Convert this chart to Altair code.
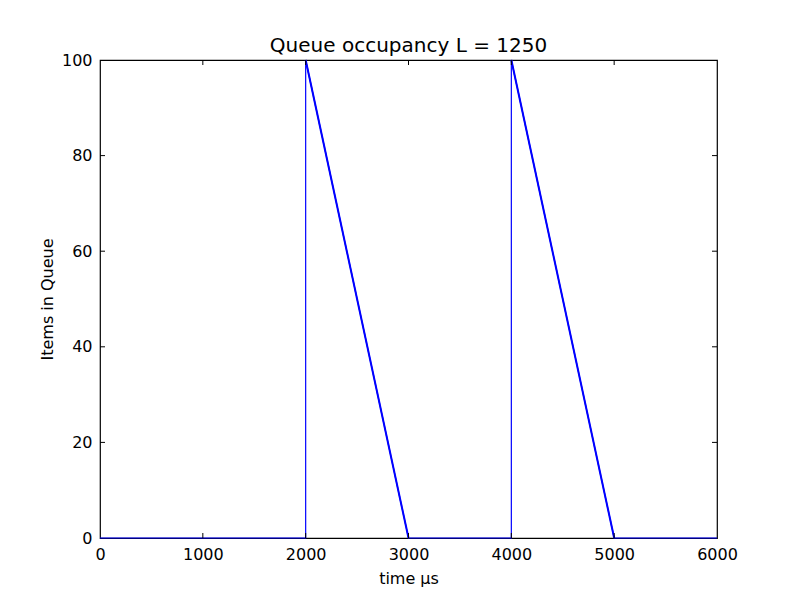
import altair as alt
import pandas as pd

time_us = [0, 2000, 2000, 3000, 4000, 4000, 5000, 6000]
items = [0, 0, 100, 0, 0, 100, 0, 0]
drop_time = [2000, 3000, 4000, 5000]
drop_items = [100, 0, 100, 0]
drop_group = [1, 1, 2, 2]
x_ticks = [0, 1000, 2000, 3000, 4000, 5000, 6000]
y_ticks = [0, 20, 40, 60, 80, 100]

W, H = 617, 478
FONT = "DejaVu Sans"

df = pd.DataFrame({"t": time_us, "q": items, "o": list(range(len(time_us)))})
seg = pd.DataFrame({"t": drop_time, "q": drop_items, "g": drop_group})

xs = alt.Scale(domain=[0, 6000], nice=False)
ys = alt.Scale(domain=[0, 100], nice=False)

xaxis = alt.Axis(values=x_ticks, format="d", ticks=False, labelPadding=8, domain=False,
                 grid=False, title="time μs", titlePadding=8, labelFlush=False)
yaxis = alt.Axis(values=y_ticks, format="d", ticks=False, labelPadding=8, domain=False,
                 grid=False, title="Items in Queue", titlePadding=6, labelFlush=False)

base_line = alt.Chart(df).mark_line(color="#0000ff", strokeWidth=1.2).encode(
    x=alt.X("t:Q", scale=xs, axis=xaxis),
    y=alt.Y("q:Q", scale=ys, axis=yaxis),
    order="o:Q",
)
thick = alt.Chart(seg).mark_line(color="#0000ff", strokeWidth=2).encode(
    x=alt.X("t:Q", scale=xs),
    y=alt.Y("q:Q", scale=ys),
    detail="g:N",
)

xt = pd.DataFrame({"v": x_ticks[1:-1]})
yt = pd.DataFrame({"v": y_ticks[1:-1]})
tick_bottom = alt.Chart(xt).mark_rule(color="black", strokeWidth=1).encode(
    x=alt.X("v:Q", scale=xs), y=alt.value(H), y2=alt.value(H - 5))
tick_top = alt.Chart(xt).mark_rule(color="black", strokeWidth=1).encode(
    x=alt.X("v:Q", scale=xs), y=alt.value(0), y2=alt.value(5))
tick_left = alt.Chart(yt).mark_rule(color="black", strokeWidth=1).encode(
    y=alt.Y("v:Q", scale=ys), x=alt.value(0), x2=alt.value(5))
tick_right = alt.Chart(yt).mark_rule(color="black", strokeWidth=1).encode(
    y=alt.Y("v:Q", scale=ys), x=alt.value(W), x2=alt.value(W - 5))

chart = alt.layer(base_line, thick, tick_bottom, tick_top, tick_left, tick_right).properties(
    width=W, height=H,
    background="white",
    title=alt.TitleParams("Queue occupancy L = 1250", font=FONT, fontSize=20,
                          fontWeight="normal", color="black", offset=6, dy=10),
    autosize=alt.AutoSizeParams(type="none"),
    padding={"left": 92, "top": 52, "right": 72, "bottom": 52},
).configure_view(stroke="black", strokeWidth=1.2).configure_axis(
    labelFont=FONT, labelFontSize=16, labelColor="black",
    titleFont=FONT, titleFontSize=16, titleColor="black", titleFontWeight="normal",
).configure_title(fontSize=20, font=FONT, fontWeight="normal")

chart.save("out.html", embed_options={"renderer": "svg", "actions": False})
